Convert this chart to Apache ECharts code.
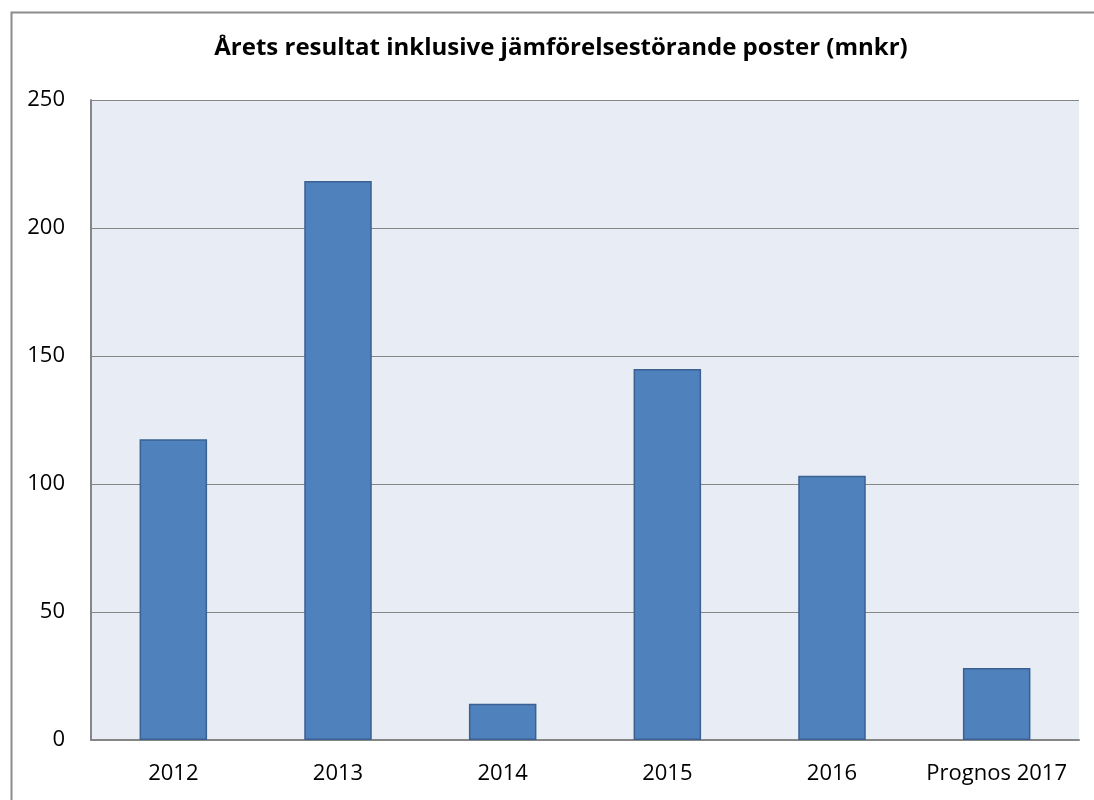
<!DOCTYPE html>
<html><head><meta charset="utf-8">
<script src="https://cdn.jsdelivr.net/npm/echarts@6/dist/echarts.min.js"></script>
<style>html,body{margin:0;padding:0;background:#fff}#c{width:1094px;height:800px}</style>
</head><body><div id="c"></div>
<script>
const categories = ['2012', '2013', '2014', '2015', '2016', 'Prognos 2017'];
const values = [117.5, 218.4, 14.2, 144.9, 103.2, 28.1];
const yTicks = [0, 50, 100, 150, 200, 250];
const titleText = 'Årets resultat inklusive jämförelsestörande poster (mnkr)';

const font = "'Open Sans', Lato, sans-serif";
const chart = echarts.init(document.getElementById('c'), null, {renderer: 'canvas'});
chart.setOption({
  animation: false,
  backgroundColor: '#fff',
  graphic: [{
    type: 'rect', left: 9, top: 10, shape: {width: 1200, height: 900},
    style: {fill: 'none', stroke: '#8c8c8c', lineWidth: 2}, silent: true, z: -1
  }],
  title: {
    text: titleText, left: 556, top: 31, textAlign: 'center',
    textStyle: {fontFamily: font, fontWeight: 'bold', fontSize: 24, color: '#000'}
  },
  grid: {left: 91, right: 15, top: 100, bottom: 60, show: true, backgroundColor: '#E8ECF5', borderWidth: 0},
  xAxis: {
    type: 'category', data: categories,
    axisLine: {lineStyle: {color: '#868686', width: 2}},
    axisTick: {show: false},
    axisLabel: {interval: 0, fontFamily: font, fontSize: 22, color: '#000', margin: 23}
  },
  yAxis: {
    type: 'value', min: 0, max: yTicks[yTicks.length - 1], interval: 50,
    axisLine: {show: true, lineStyle: {color: '#868686', width: 2}},
    axisTick: {show: false},
    splitLine: {lineStyle: {color: '#868686', width: 1}},
    axisLabel: {fontFamily: font, fontSize: 22, color: '#000', margin: 26}
  },
  series: [{
    type: 'bar', data: values, barWidth: '41%',
    itemStyle: {color: '#4F81BD', borderColor: '#3A6192', borderWidth: 1.5}
  }]
});
</script></body></html>
